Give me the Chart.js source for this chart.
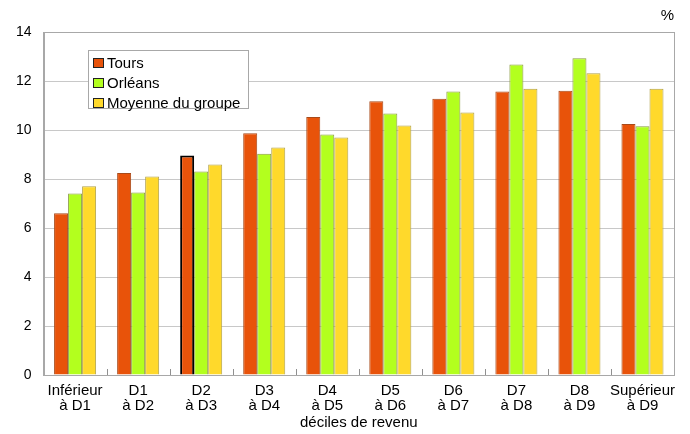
<!DOCTYPE html>
<html><head><meta charset="utf-8">
<script src="https://cdn.jsdelivr.net/npm/chart.js@4/dist/chart.umd.min.js"></script>
<style>
html,body{margin:0;padding:0;background:#fff;}
#wrap{position:relative;width:690px;height:434px;}
#legend{position:absolute;left:88px;top:50px;width:161px;height:59px;border:1px solid #a8a8a8;background:#fff;font:15px "Liberation Sans",Arial,sans-serif;color:#000;box-sizing:border-box;padding-top:2px;}
#legend div{height:20px;line-height:20px;white-space:nowrap;display:flex;align-items:center;}
#legend span.sw{display:inline-block;width:9px;height:8px;border:1px solid #222;margin-left:4px;margin-right:3px;}
</style></head>
<body>
<div id="wrap"><canvas id="c" width="690" height="434"></canvas><div id="legend"></div></div>
<script>
const categories = [['Inférieur','à D1'],['D1','à D2'],['D2','à D3'],['D3','à D4'],['D4','à D5'],['D5','à D6'],['D6','à D7'],['D7','à D8'],['D8','à D9'],['Supérieur','à D9']];
const seriesNames = ['Tours','Orléans','Moyenne du groupe'];
const tours = [6.6, 8.24, 8.96, 9.87, 10.53, 11.17, 11.28, 11.57, 11.6, 10.25];
const orleans = [7.41, 7.45, 8.31, 9.03, 9.82, 10.67, 11.57, 12.67, 12.93, 10.15];
const moyenne = [7.7, 8.1, 8.59, 9.29, 9.69, 10.18, 10.71, 11.68, 12.32, 11.68];
const yTicks = [0, 2, 4, 6, 8, 10, 12, 14];
const xTitle = 'déciles de revenu';
const unitLabel = '%';

const fills = ['#E8530A', '#B3FF1E', '#FFD92B'];
const borders = ['#A84A1A', '#8A9A40', '#B0A048'];
const highlightIndex = 2;

const FONT = '"Liberation Sans", Arial, sans-serif';

const frame = {
  id: 'frame',
  afterDatasetsDraw(chart) {
    const {ctx, chartArea: a, scales: {x}} = chart;
    ctx.save();
    ctx.strokeStyle = '#a8a8a8';
    ctx.lineWidth = 1;
    ctx.strokeRect(Math.round(a.left) + 0.5, Math.round(a.top) + 0.5, Math.round(a.right - a.left), Math.round(a.bottom - a.top));
    ctx.strokeStyle = '#909090';
    for (let i = 1; i < categories.length; i++) {
      const px = Math.round((x.getPixelForTick(i - 1) + x.getPixelForTick(i)) / 2) + 0.5;
      ctx.beginPath();
      ctx.moveTo(px, a.bottom);
      ctx.lineTo(px, a.bottom - 6);
      ctx.stroke();
    }
    ctx.restore();
  }
};

const datasets = [tours, orleans, moyenne].map((d, k) => ({
  label: seriesNames[k],
  data: d,
  backgroundColor: fills[k],
  borderColor: k === 0 ? (c) => (c.dataIndex === highlightIndex ? '#000' : borders[0]) : borders[k],
  borderWidth: k === 0 ? (c) => (c.dataIndex === highlightIndex ? 2 : 1) : 1,
  borderSkipped: 'bottom',
  categoryPercentage: 0.667,
  barPercentage: 1
}));

const chart = new Chart(document.getElementById('c'), {
  type: 'bar',
  data: { labels: categories, datasets },
  options: {
    responsive: false,
    animation: false,
    layout: { padding: { left: 4, right: 16, top: 0, bottom: 0 } },
    plugins: {
      legend: { display: false },
      tooltip: { enabled: false },
      title: {
        display: true, text: unitLabel, align: 'end', color: '#000',
        font: { family: FONT, size: 15, weight: 'normal' },
        padding: { top: 7, bottom: 7 }
      }
    },
    scales: {
      x: {
        grid: { display: false, drawTicks: false },
        border: { display: true, color: '#a8a8a8' },
        ticks: { color: '#000', font: { family: FONT, size: 15, lineHeight: 1.0 }, padding: 8, maxRotation: 0, autoSkip: false },
        title: { display: true, text: xTitle, color: '#000', font: { family: FONT, size: 15, lineHeight: 1.0 }, padding: { top: -5.5, bottom: 3.5 } }
      },
      y: {
        min: 0, max: 14,
        afterBuildTicks(s) { s.ticks = yTicks.map(v => ({ value: v })); },
        grid: { color: '#c8c8c8', drawTicks: false },
        border: { display: true, color: '#a8a8a8' },
        ticks: { color: '#000', font: { family: FONT, size: 14 }, padding: 12 }
      }
    }
  },
  plugins: [frame]
});

const leg = document.getElementById('legend');
seriesNames.forEach((n, k) => {
  const row = document.createElement('div');
  const sw = document.createElement('span');
  sw.className = 'sw';
  sw.style.background = fills[k];
  row.appendChild(sw);
  row.appendChild(document.createTextNode(n));
  leg.appendChild(row);
});
</script>
</body></html>
